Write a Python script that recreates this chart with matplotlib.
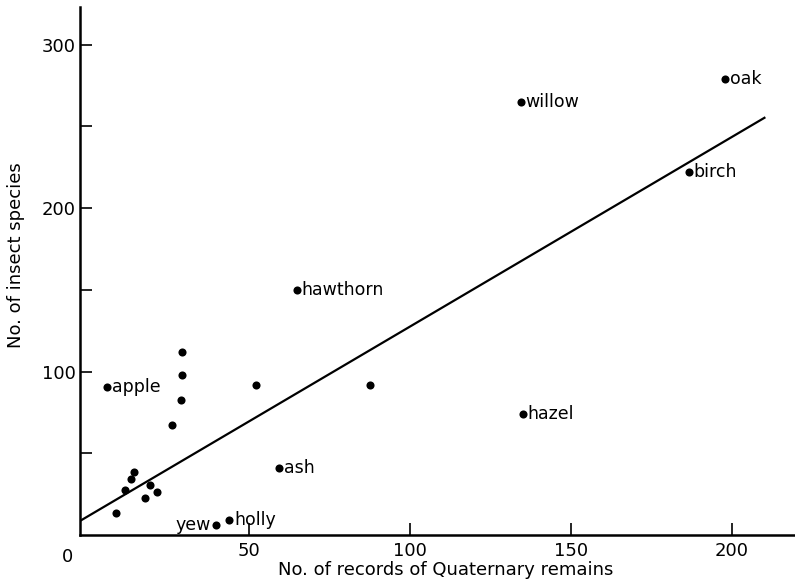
import matplotlib
matplotlib.use('Agg')
import numpy as np
import matplotlib.pyplot as plt

# Records of Quaternary remains vs number of insect species
records = [198, 134.4, 186.6, 64.9, 5.8, 29.3, 29.3, 28.9, 26.2, 52.1, 87.6,
           135, 59.4, 14.4, 13.4, 11.6, 19.2, 21.5, 17.8, 8.7, 39.8, 43.9]
species = [279, 265, 222, 150, 90.8, 112.2, 98.1, 82.6, 67.1, 91.6, 91.8,
           74, 41.2, 38.8, 34.3, 27.5, 30.4, 26.1, 22.4, 13.7, 6.1, 9.2]
names = ['oak', 'willow', 'birch', 'hawthorn', 'apple', '', '', '', '', '', '',
         'hazel', 'ash', '', '', '', '', '', '', '', 'yew', 'holly']

# fitted line
intercept = 11.5
slope = 1.16
line_x = [-2.5, 210.4]

plt.rcParams['font.family'] = 'DejaVu Sans'

fig = plt.figure(figsize=(7.95, 5.82), dpi=100)
ax = fig.add_axes([80 / 795, 47 / 582, 715 / 795, 528 / 582])

lx = np.array(line_x)
ax.plot(lx, intercept + slope * lx, color='black', lw=1.6, solid_capstyle='butt')
ax.scatter(records, species, s=34, color='black', zorder=3, linewidths=0)

for x, y, n in zip(records, species, names):
    if not n:
        continue
    if n == 'yew':
        ax.annotate(n, (x, y), xytext=(-4, 0), textcoords='offset points',
                    ha='right', va='center', fontsize=12.5)
    else:
        ax.annotate(n, (x, y), xytext=(3.5, 0), textcoords='offset points',
                    ha='left', va='center', fontsize=12.5)

ax.set_xlim(-2.5, 219.6)
ax.set_ylim(0, 323)
for s in ['top', 'right']:
    ax.spines[s].set_visible(False)
for s in ['left', 'bottom']:
    ax.spines[s].set_linewidth(1.8)

ax.set_xticks([50, 100, 150, 200])
ax.set_yticks([100, 200, 300])
ax.set_yticks([50, 150, 250], minor=True)
ax.tick_params(which='both', direction='in', length=8.5, width=1.2,
               labelsize=13, pad=3)
ax.tick_params(axis='x', pad=5)
ax.annotate('0', (-2.5, 0), xytext=(-9, -9), textcoords='offset points',
            ha='center', va='top', fontsize=13)

fig.text(446 / 795, 1 - 570 / 582, 'No. of records of Quaternary remains',
         ha='center', va='center', fontsize=13)
fig.text(16 / 795, 1 - 255 / 582, 'No. of insect species', rotation=90,
         ha='center', va='center', fontsize=13)

fig.savefig('out.png', dpi=100)
